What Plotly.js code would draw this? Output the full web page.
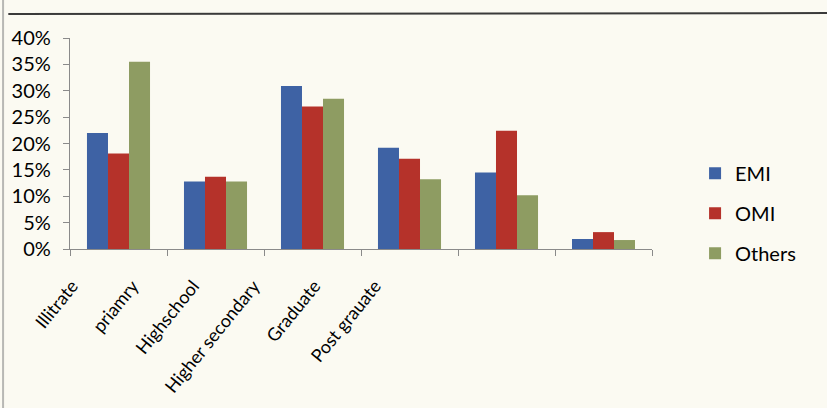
<!DOCTYPE html>
<html>
<head>
<meta charset="utf-8">
<script src="https://cdn.plot.ly/plotly-3.0.1.min.js"></script>
<style>
  html, body { margin: 0; padding: 0; background: #fbfaf2; }
  #chart { width: 827px; height: 408px; }
</style>
</head>
<body>
<div id="chart"></div>
<script>
// Education level shares by group
const categories = ['Illitrate', 'priamry', 'Highschool', 'Higher secondary', 'Graduate', 'Post grauate'];
const emi    = [0.220, 0.128, 0.309, 0.192, 0.145, 0.019];
const omi    = [0.181, 0.137, 0.270, 0.171, 0.224, 0.032];
const others = [0.355, 0.128, 0.285, 0.132, 0.102, 0.017];
const seriesNames = ['EMI', 'OMI', 'Others'];
const yTickVals = [0, 0.05, 0.10, 0.15, 0.20, 0.25, 0.30, 0.35, 0.40];

const colors = ['#3e62a4', '#b5322a', '#8e9c62'];
const font = 'Lato, "Open Sans", sans-serif';

const traces = [emi, omi, others].map((vals, i) => ({
  type: 'bar',
  name: seriesNames[i],
  x: categories,
  y: vals,
  marker: { color: colors[i], line: { width: 0 } },
  legendgroup: seriesNames[i],
  hoverinfo: 'x+y'
}));

// Slanted category captions sit on their own overlaid axis
traces.push({
  type: 'scatter',
  mode: 'markers',
  x: categories.map((_, i) => i),
  y: emi,
  xaxis: 'x2',
  yaxis: 'y',
  marker: { opacity: 0 },
  showlegend: false,
  hoverinfo: 'skip'
});

const layout = {
  width: 827,
  height: 408,
  margin: { l: 70, r: 175, t: 38, b: 159 },
  paper_bgcolor: '#fbfaf2',
  plot_bgcolor: 'rgba(0,0,0,0)',
  font: { family: font, color: '#000', size: 18 },
  barmode: 'group',
  bargap: 0.35,
  bargroupgap: 0,
  showlegend: true,
  legend: {
    x: 1.074, xanchor: 'left',
    y: 0.17, yanchor: 'middle',
    font: { family: font, size: 20, color: '#000' },
    bgcolor: 'rgba(0,0,0,0)',
    traceorder: 'grouped',
    tracegroupgap: 11
  },
  xaxis: {
    type: 'category',
    showticklabels: false,
    ticks: 'outside',
    tickson: 'boundaries',
    ticklen: 6,
    tickcolor: '#8a8a8a',
    showline: true,
    linecolor: '#8a8a8a',
    linewidth: 1.2,
    showgrid: false,
    zeroline: false,
    fixedrange: true
  },
  xaxis2: {
    overlaying: 'x',
    anchor: 'y',
    side: 'bottom',
    range: [-0.033, 9.57],
    tickmode: 'array',
    tickvals: categories.map((_, i) => i),
    ticktext: categories,
    tickangle: -51,
    ticks: '',
    ticklabelstandoff: 22,
    tickfont: { family: font, size: 18, color: '#000' },
    showline: false,
    showgrid: false,
    zeroline: false,
    fixedrange: true
  },
  yaxis: {
    range: [0, 0.4],
    tickmode: 'array',
    tickvals: yTickVals,
    tickformat: '.0%',
    ticks: 'outside',
    ticklen: 6,
    tickcolor: '#8a8a8a',
    ticklabelstandoff: 8,
    showline: true,
    linecolor: '#8a8a8a',
    linewidth: 1.2,
    showgrid: false,
    zeroline: false,
    tickfont: { family: font, size: 20, color: '#000' },
    fixedrange: true
  },
  shapes: [
    // page rule across the top
    { type: 'line', xref: 'paper', yref: 'paper', x0: -0.106, x1: 1.301, y0: 1.114, y1: 1.118,
      line: { color: '#3a3a3a', width: 2 } },
    // page edge on the left
    { type: 'line', xref: 'paper', yref: 'paper', x0: -0.115, x1: -0.115, y0: -0.76, y1: 1.19,
      line: { color: '#b8b8b4', width: 2 } }
  ]
};

Plotly.newPlot('chart', traces, layout, { displayModeBar: false, staticPlot: true });
</script>
</body>
</html>
